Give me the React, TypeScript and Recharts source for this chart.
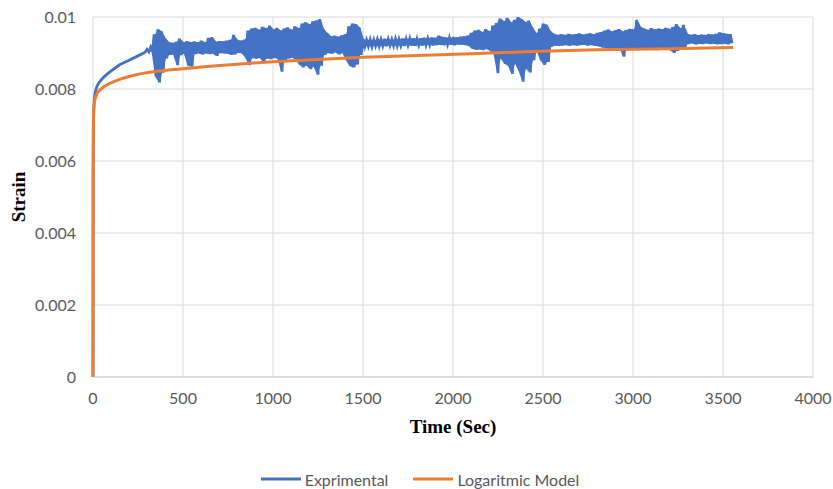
import React from 'react';
import { ComposedChart, Line, Area, XAxis, YAxis, CartesianGrid, Legend } from 'recharts';

// axis ticks
const xTicks = [0, 500, 1000, 1500, 2000, 2500, 3000, 3500, 4000];
const yTicks = [0, 0.002, 0.004, 0.006, 0.008, 0.01];

// strain values below are in units of 1e-4
const UNIT = 1e-4;

// experimental, initial rise (read at irregular times)
const expEarlyTime = [0, 1, 2, 4, 7, 12, 20, 30, 45, 60, 80, 110, 150, 200, 250, 290];
const expEarlyStrain = [0, 55, 68, 74, 77, 79, 80.5, 81.5, 82.5, 83.3, 84.2, 85.4, 86.8, 88, 89.2, 90.2];

// experimental, noisy part: one reading every 10 s from t = 300 s (upper / lower edge of the band)
const expNoisyStart = 300;
const expNoisyStep = 10;
const expNoisyStrain = [
  91.0, 90.3, 91.6, 90.4, 95.2, 83.5, 96.6, 81.8, 96.0, 84.5, // 300
  94.0, 88.5, 93.0, 89.5, 92.8, 89.6, 93.1, 86.6, 94.0, 89.4, // 400
  92.9, 89.8, 93.3, 86.5, 93.0, 86.2, 93.2, 89.7, 92.9, 89.9, // 500
  93.4, 89.6, 93.0, 89.9, 94.2, 89.7, 94.4, 89.8, 93.1, 89.2, // 600
  93.3, 90.0, 93.2, 89.9, 93.4, 89.8, 93.6, 89.5, 95.0, 89.6, // 700
  93.6, 90.1, 93.4, 89.9, 93.7, 88.8, 96.2, 86.6, 96.8, 88.6, // 800
  97.0, 88.4, 96.4, 88.7, 97.3, 87.5, 96.9, 88.5, 97.6, 88.3, // 900
  96.5, 88.6, 97.0, 88.4, 96.2, 84.8, 96.8, 88.0, 97.1, 88.5, // 1000
  96.4, 88.7, 97.4, 88.2, 96.9, 86.8, 98.2, 86.0, 98.5, 86.5, // 1100
  98.0, 85.5, 98.8, 86.2, 99.0, 84.0, 99.4, 86.5, 96.5, 89.5, // 1200
  95.5, 90.0, 94.6, 89.8, 94.8, 90.2, 94.5, 89.6, 94.9, 90.0, // 1300
  95.2, 88.0, 97.4, 86.4, 98.2, 86.0, 98.0, 86.8, 97.0, 89.5, // 1400
  93.8, 91.8, 93.6, 91.9, 93.7, 91.8, 93.6, 92.0, 93.8, 91.9, // 1500
  93.7, 92.0, 93.9, 91.9, 93.8, 92.1, 93.7, 92.0, 93.9, 92.0, // 1600
  93.8, 92.1, 94.0, 92.0, 93.9, 92.2, 94.0, 92.1, 94.1, 92.0, // 1700
  93.9, 92.2, 94.1, 92.1, 94.2, 92.2, 94.0, 92.3, 94.3, 92.1, // 1800
  94.2, 92.2, 94.8, 92.3, 94.4, 92.2, 94.3, 92.4, 94.2, 92.3, // 1900
  94.4, 92.2, 94.3, 92.4, 94.5, 92.3, 94.6, 92.2, 94.8, 92.0, // 2000
  95.6, 91.2, 96.2, 90.9, 96.4, 91.0, 95.8, 90.8, 96.6, 91.1, // 2100
  96.0, 90.6, 97.6, 89.8, 98.3, 84.4, 99.6, 88.5, 98.8, 87.0, // 2200
  99.8, 86.5, 98.5, 84.2, 99.2, 87.0, 100.0, 85.0, 99.4, 82.0, // 2300
  98.6, 85.6, 99.0, 84.6, 97.0, 88.0, 95.5, 90.5, 96.8, 88.0, // 2400
  98.2, 86.7, 97.8, 87.5, 96.0, 91.8, 95.3, 92.1, 95.0, 92.0, // 2500
  95.2, 92.1, 95.0, 92.2, 95.3, 92.0, 95.1, 92.2, 95.2, 92.1, // 2600
  95.4, 92.2, 95.1, 92.3, 95.3, 92.1, 95.4, 92.2, 95.2, 92.0, // 2700
  95.6, 91.9, 95.8, 91.6, 96.2, 91.4, 96.5, 91.2, 96.0, 91.3, // 2800
  96.3, 91.0, 96.6, 91.2, 96.0, 89.0, 96.4, 91.1, 96.7, 91.0, // 2900
  96.5, 91.2, 99.2, 90.8, 97.2, 91.0, 96.8, 91.2, 96.4, 90.9, // 3000
  96.9, 91.1, 96.5, 90.8, 96.8, 91.0, 96.6, 90.9, 97.0, 91.2, // 3100
  96.7, 90.8, 97.2, 90.0, 98.0, 90.6, 96.9, 91.0, 97.8, 91.4, // 3200
  95.3, 92.5, 95.0, 92.7, 95.2, 92.4, 94.9, 92.6, 95.1, 92.5, // 3300
  95.0, 92.7, 95.2, 92.5, 95.1, 92.6, 95.3, 92.4, 95.7, 92.5, // 3400
  95.5, 92.6, 95.3, 92.4, 95.2, 92.7, // 3500
];

// logarithmic model
const modelTime = [0, 1, 2, 4, 8, 15, 25, 40, 60, 93, 130, 167, 210, 259, 333, 420, 500, 650, 800, 1000, 1250, 1500, 1800, 2100, 2442, 2800, 3200, 3556];
const modelStrain = [0, 62, 70, 74.5, 76.5, 77.8, 79, 79.8, 80.6, 81.6, 82.3, 83, 83.6, 84.2, 84.8, 85.3, 85.6, 86.3, 86.9, 87.6, 88.2, 88.8, 89.3, 89.8, 90.4, 90.9, 91.2, 91.5];

const expData = [
  ...expEarlyTime.map((t, i) => ({ t, strain: expEarlyStrain[i] * UNIT })),
  ...expNoisyStrain.map((s, i) => ({ t: expNoisyStart + i * expNoisyStep, strain: s * UNIT })),
];

// the noisy readings taken two at a time give the filled band behind the trace
const expBand = expNoisyStrain
  .filter((_, i) => i % 2 === 0 && i + 1 < expNoisyStrain.length)
  .map((hi, k) => {
    const lo = expNoisyStrain[2 * k + 1];
    return {
      t: expNoisyStart + 2 * k * expNoisyStep + expNoisyStep / 2,
      range: [Math.min(hi, lo) * UNIT, Math.max(hi, lo) * UNIT],
    };
  });

const modelData = modelTime.map((t, i) => ({ t, strain: modelStrain[i] * UNIT }));

const textGray = '#595959';
const tickFont = { fill: textGray, fontSize: 16, fontFamily: 'Lato, "Liberation Sans", sans-serif' };

const StrainLabel = (props: any) => {
  const { viewBox } = props;
  const cx = viewBox.x + 18;
  const cy = viewBox.y + viewBox.height / 2;
  return (
    <text
      x={cx}
      y={cy}
      transform={`rotate(-90 ${cx} ${cy})`}
      textAnchor="middle"
      dominantBaseline="central"
      fontFamily='"Liberation Serif", serif'
      fontWeight="bold"
      fontSize={19}
      fill="#000"
    >
      Strain
    </text>
  );
};

const renderLegend = (props: any) => {
  const payload = (props.payload || []).filter((p: any) => p.type !== 'none');
  return (
    <div
      style={{
        display: 'flex',
        justifyContent: 'center',
        alignItems: 'center',
        height: 20,
        paddingLeft: 7,
        fontFamily: tickFont.fontFamily,
        fontSize: 16,
        color: textGray,
      }}
    >
      {payload.map((entry: any, i: number) => (
        <div key={entry.value} style={{ display: 'flex', alignItems: 'center', marginLeft: i === 0 ? 0 : 25 }}>
          <svg width={40} height={4}>
            <line x1={0} y1={2} x2={40} y2={2} stroke={entry.color} strokeWidth={3} />
          </svg>
          <span style={{ marginLeft: 4 }}>{entry.value}</span>
        </div>
      ))}
    </div>
  );
};

const App: React.FC = () => {
  return (
    <div style={{ position: 'absolute', left: 0, top: 0 }}>
      <ComposedChart width={833} height={489} margin={{ top: 17, right: 20, left: 0, bottom: 0 }}>
        <CartesianGrid stroke="#d9d9d9" />
        <XAxis
          type="number"
          dataKey="t"
          domain={[0, 4000]}
          ticks={xTicks}
          height={92}
          tickLine={false}
          tickSize={0}
          tickMargin={16}
          axisLine={{ stroke: '#cccccc' }}
          tick={tickFont}
          label={{
            value: 'Time (Sec)',
            position: 'insideBottom',
            offset: 36,
            fill: '#000',
            fontSize: 19,
            fontWeight: 'bold',
            fontFamily: '"Liberation Serif", serif',
          }}
        />
        <YAxis
          type="number"
          domain={[0, 0.01]}
          ticks={yTicks}
          width={93}
          axisLine={false}
          tickLine={false}
          tickSize={0}
          tickMargin={17}
          tick={tickFont}
          tickFormatter={(v: number) => String(v)}
          label={StrainLabel}
        />
        <Legend verticalAlign="bottom" wrapperStyle={{ left: 0, width: 833 }} content={renderLegend} />
        <Area
          data={expBand}
          type="linear"
          dataKey="range"
          stroke="none"
          fill="#4472C4"
          fillOpacity={1}
          legendType="none"
          isAnimationActive={false}
        />
        <Line
          data={expData}
          type="linear"
          dataKey="strain"
          name="Exprimental"
          stroke="#4472C4"
          strokeWidth={2.8}
          dot={false}
          isAnimationActive={false}
        />
        <Line
          data={modelData}
          type="linear"
          dataKey="strain"
          name="Logaritmic Model"
          stroke="#ED7D31"
          strokeWidth={3}
          dot={false}
          isAnimationActive={false}
        />
      </ComposedChart>
    </div>
  );
};

export default App;
